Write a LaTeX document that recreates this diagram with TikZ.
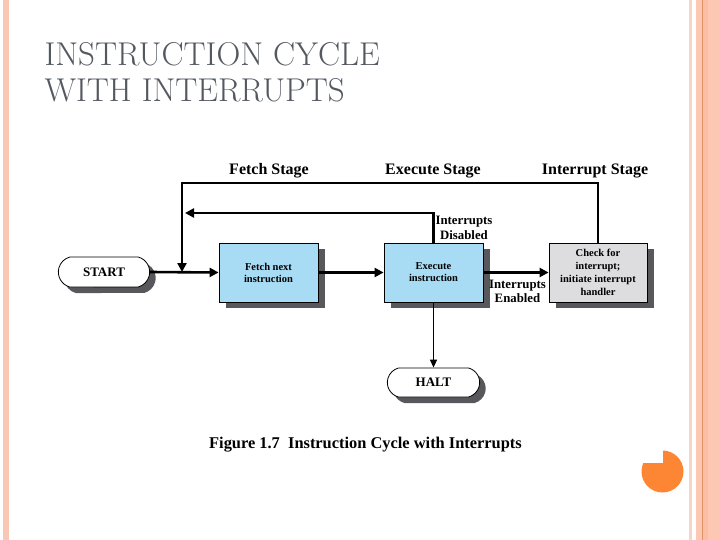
\documentclass[tikz,border=0pt]{standalone}
\usepackage{fontspec}
\newfontfamily\diag{Liberation Serif}
\usetikzlibrary{arrows.meta,shadows,shapes.misc}
\definecolor{boxblue}{RGB}{168,220,245}
\definecolor{boxgray}{RGB}{221,221,223}
\definecolor{shade}{RGB}{88,88,92}
\definecolor{titlegray}{RGB}{84,89,96}
\definecolor{stripA}{RGB}{248,200,181}
\definecolor{stripB}{RGB}{246,212,199}
\definecolor{stripC}{RGB}{252,200,180}
\definecolor{stripD}{RGB}{251,190,165}
\definecolor{stripLine}{RGB}{222,148,100}
\definecolor{pie}{RGB}{252,134,52}
\tikzset{
  box/.style={draw=black, line width=0.8pt, minimum width=99pt, minimum height=59pt,
    align=center, font=\diag\bfseries\fontsize{10.5}{12}\selectfont,
    drop shadow={shadow xshift=7pt, shadow yshift=-6pt, fill=shade, opacity=1}},
  term/.style={draw=black, line width=0.8pt, rounded rectangle, rounded rectangle arc length=150,
    minimum width=98pt, minimum height=30pt,
    fill=white, font=\diag\bfseries\fontsize{13}{15}\selectfont,
    drop shadow={shadow xshift=6pt, shadow yshift=-6pt, fill=shade, opacity=1}},
  conn/.style={line width=2.6pt, -{Triangle[length=9pt,width=9pt]}},
  stagelbl/.style={font=\diag\bfseries\fontsize{16}{18}\selectfont},
  condlbl/.style={align=center, font=\diag\bfseries\fontsize{12.8}{14.5}\selectfont},
  ttl/.style={anchor=base west, text=titlegray, font=\fontsize{33}{37}\selectfont}
}
\begin{document}
\begin{tikzpicture}[x=1pt,y=-1pt]
\useasboundingbox (0,0) rectangle (720,540);
% slide decorations
\fill[stripA] (3,0) rectangle (9,540);
\fill[stripB] (689,0) rectangle (692,540);
\fill[stripC] (696,0) rectangle (720,540);
\fill[stripD] (702.5,0) rectangle (708,540);
\fill[stripLine] (702,0) rectangle (703,540);
\fill[pie] (662.5,471.5) circle (21);
\fill[white] (641,449) rectangle (662.5,462.5);
% title
\node[ttl] (t1) at (41,65.5) {INSTRUCTION CYCLE};
\node[ttl] (t2) at (41,102) {WITH INTERRUPTS};
% stage labels
\node[stagelbl] (sf) at (269,171) {Fetch Stage};
\node[stagelbl] (se) at (433,171) {Execute Stage};
\node[stagelbl] (si) at (595,171) {Interrupt Stage};
% nodes
\node[term] (start) at (104,272) {START};
\node[box, fill=boxblue] (fetch) at (268.5,272.5) {Fetch next\\instruction};
\node[box, fill=boxblue] (exec) at (433.5,272.5) {Execute\\instruction};
\node[box, fill=boxgray, minimum width=98pt, font=\diag\bfseries\fontsize{10.5}{13}\selectfont] (check) at (598,272.5) {Check for\\interrupt;\\initiate interrupt\\handler};
\node[term, minimum width=99pt, minimum height=29pt] (halt) at (433.5,382.5) {HALT};
% coordinates
\coordinate (tl) at (182,183);
\coordinate (sj) at (182,272);
\coordinate (il) at (185,213);
% connectors
\draw[conn] (start.east) -- (fetch.west);
\draw[conn] (fetch.east) -- (exec.west);
\draw[conn] (exec.east) -- (check.west);
\draw[conn, line width=1.4pt, -{Triangle[length=8pt,width=7pt]}] (exec.south) -- (halt.north);
\draw[conn] (check.north) |- (tl) -- (sj);
\draw[conn] (exec.north) |- (il);
% condition labels
\node[condlbl] (dis) at (464,228) {Interrupts\\Disabled};
\node[condlbl] (en) at (517.5,291.5) {Interrupts\\Enabled};
% caption
\node[font=\diag\bfseries\fontsize{16.4}{18}\selectfont] (cap) at (365.5,445) {Figure 1.7\ \ Instruction Cycle with Interrupts};
\end{tikzpicture}
\end{document}
